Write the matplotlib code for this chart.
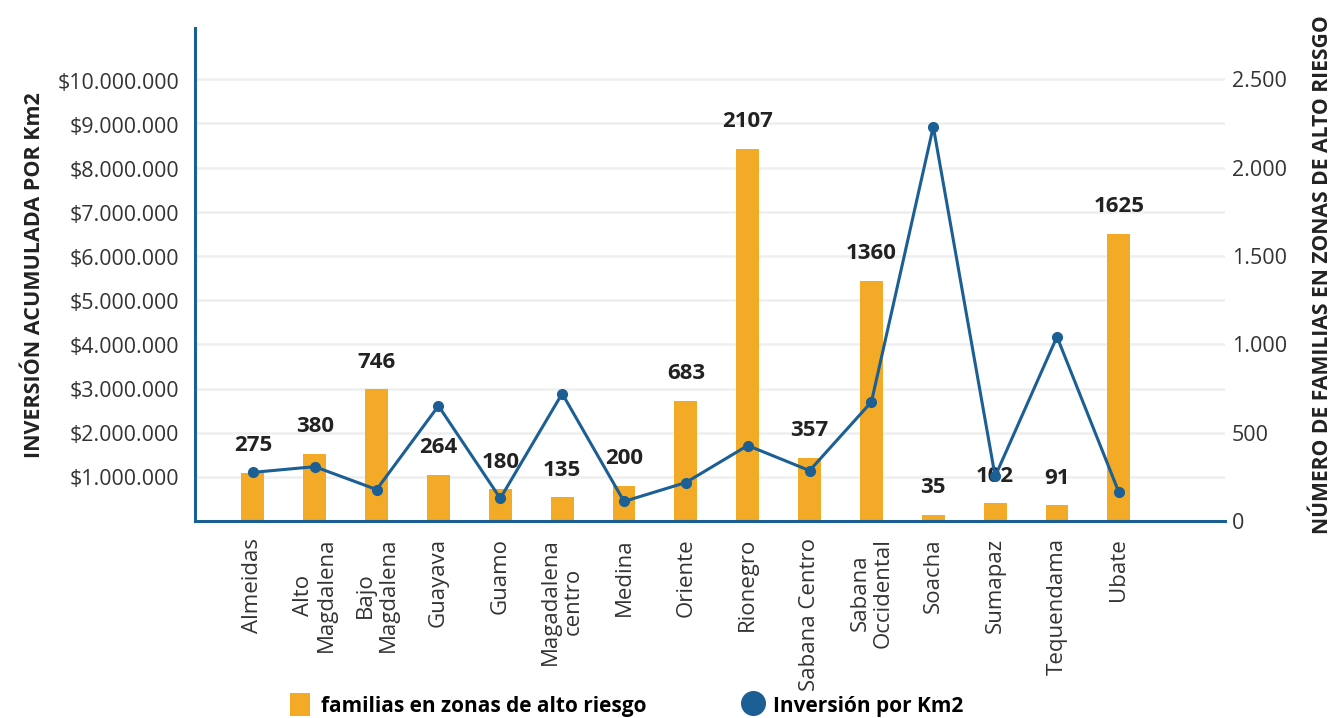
import numpy as np
import matplotlib.pyplot as plt
from matplotlib.patches import Patch
from matplotlib.lines import Line2D
from matplotlib.ticker import FuncFormatter

plt.rcParams['font.family'] = ['Open Sans', 'DejaVu Sans']

# Provincias, familias en zonas de alto riesgo e inversión por Km2
provincias = ['Almeidas', 'Alto\nMagdalena', 'Bajo\nMagdalena', 'Guayava', 'Guamo',
              'Magadalena\ncentro', 'Medina', 'Oriente', 'Rionegro', 'Sabana Centro',
              'Sabana\nOccidental', 'Soacha', 'Sumapaz', 'Tequendama', 'Ubate']
familias = [275, 380, 746, 264, 180, 135, 200, 683, 2107, 357, 1360, 35, 102, 91, 1625]
inversion = [1110000, 1240000, 720000, 2620000, 520000, 2900000, 450000, 880000,
             1720000, 1150000, 2710000, 8960000, 1020000, 4190000, 660000]

naranja = '#F2AA27'
azul = '#1B5F94'
texto = '#333333'

fig = plt.figure(figsize=(13.34, 7.18), dpi=100)
ax = fig.add_axes([0.146, 0.274, 0.772, 0.687])
ax2 = ax.twinx()
ax.set_zorder(ax2.get_zorder() + 1)
ax.patch.set_visible(False)

x = np.arange(len(provincias))

# barras: familias (eje derecho)
ax2.bar(x, familias, width=0.37, color=naranja, zorder=2)
for xi, v in zip(x, familias):
    ax2.annotate(str(v), (xi, v), xytext=(0, 12), textcoords='offset points',
                 ha='center', va='bottom', fontsize=16, fontweight='bold', color='#222222')
ax2.set_ylim(0, 2790)
ax2.set_yticks(np.arange(0, 2501, 500))
ax2.set_yticks(np.arange(250, 2501, 250), minor=True)
ax2.yaxis.set_major_formatter(FuncFormatter(lambda v, p: f'{int(v):,}'.replace(',', '.')))
ax2.tick_params(axis='y', which='both', length=0, labelsize=15.5, labelcolor=texto, pad=5)
ax2.grid(axis='y', which='both', color='#EFEFEF', linewidth=1.8, zorder=0)
ax2.set_axisbelow(True)
ax2.set_ylabel('NÚMERO DE FAMILIAS EN ZONAS DE ALTO RIESGO', fontsize=15.2,
               fontweight='bold', color='#222222', labelpad=18)
for s in ax2.spines.values():
    s.set_visible(False)

# línea: inversión por Km2 (eje izquierdo)
ax.plot(x, inversion, color=azul, linewidth=2.2, marker='o', markersize=7, zorder=3)
ax.set_ylim(0, 11200000)
ax.set_yticks(np.arange(1000000, 10000001, 1000000))
ax.yaxis.set_major_formatter(FuncFormatter(lambda v, p: '$' + f'{int(v):,}'.replace(',', '.')))
ax.tick_params(axis='y', length=0, labelsize=15.4, labelcolor=texto, pad=11)
ax.set_ylabel('INVERSIÓN ACUMULADA POR Km2', fontsize=15.5, fontweight='bold',
              color='#222222', labelpad=9)

ax.set_xlim(-0.94, 15.71)
ax.set_xticks(x)
ax.set_xticklabels(provincias, rotation=90, fontsize=16, color=texto,
                   ha='center', va='top', multialignment='center', linespacing=1.1)
ax.tick_params(axis='x', length=0, pad=12)

for side in ['top', 'right']:
    ax.spines[side].set_visible(False)
for side in ['left', 'bottom']:
    ax.spines[side].set_color(azul)
    ax.spines[side].set_linewidth(2.2)

handles = [Patch(facecolor=naranja, edgecolor='none'),
           Line2D([], [], marker='o', color='none', markerfacecolor=azul,
                  markeredgecolor=azul, markersize=17)]
fig.legend(handles, ['familias en zonas de alto riesgo', 'Inversión por Km2'],
           loc='center left', bbox_to_anchor=(0.203, 0.018), ncol=2, frameon=False,
           prop={'size': 15, 'weight': 'bold'}, handlelength=1.0, handleheight=1.3,
           columnspacing=4.6, handletextpad=0.5)

fig.savefig('out.png', dpi=100)
